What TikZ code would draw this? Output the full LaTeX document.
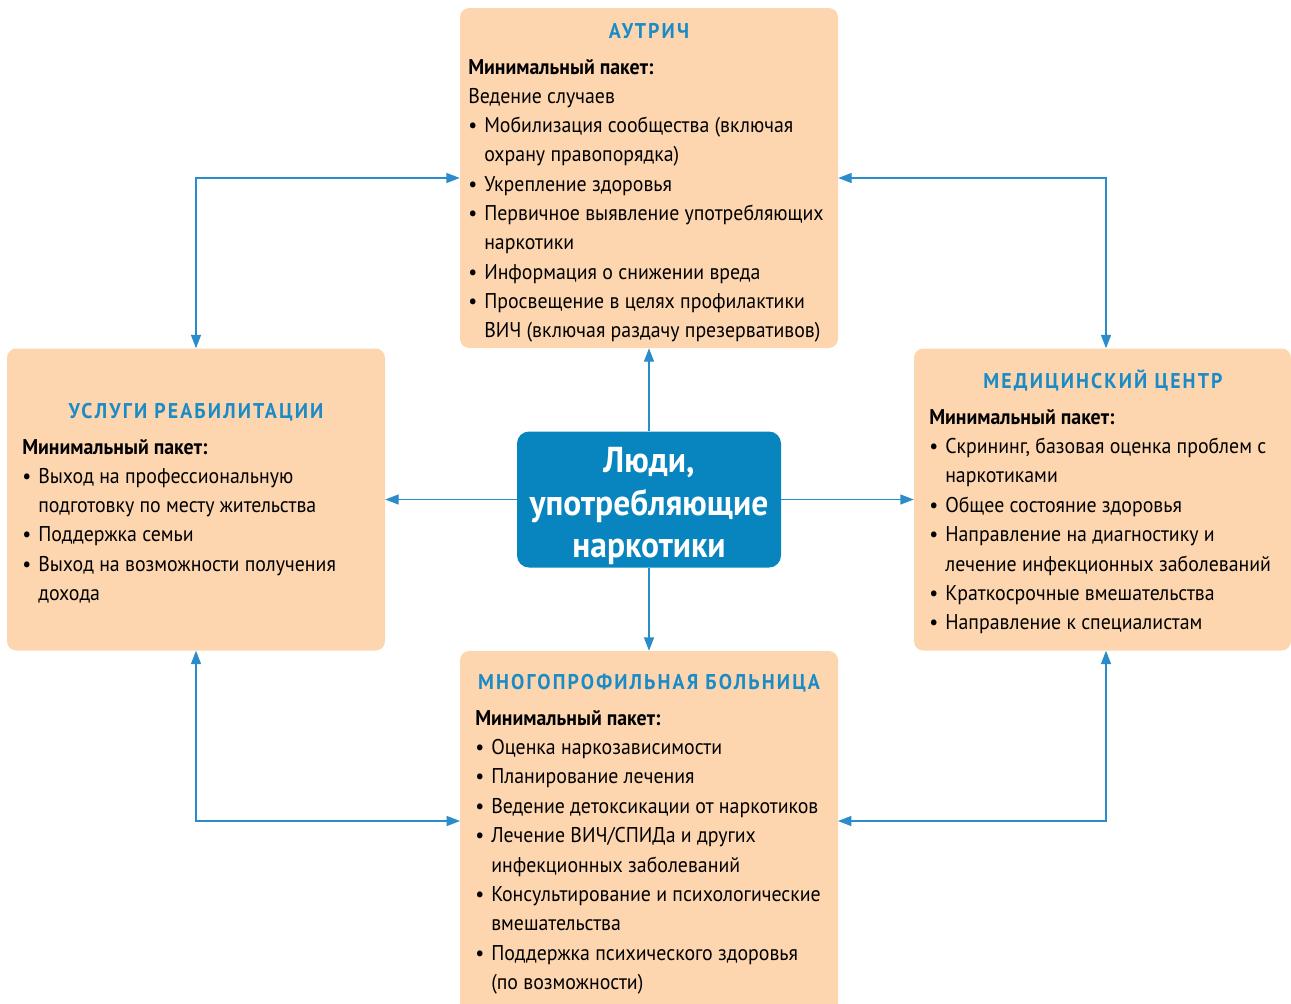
\documentclass[tikz,border=0pt]{standalone}
\usepackage{fontspec}
\setmainfont[FakeStretch=0.93]{PT Sans}
\usetikzlibrary{arrows.meta}
\definecolor{peach}{RGB}{253,214,176}
\definecolor{hubblue}{RGB}{8,132,190}
\definecolor{ttlblue}{RGB}{27,139,198}
\definecolor{conn}{RGB}{42,140,200}
\newdimen\px \px=0.75pt
\newcommand\bitem[1]{\makebox[16\px][l]{•}#1}
\newcommand\citem[1]{\hspace*{16\px}#1}
\begin{document}
\begin{tikzpicture}[x=0.75pt,y=-0.75pt,
  box/.style={fill=peach,rounded corners=7pt,inner sep=0pt},
  ln/.style={anchor=base west,inner sep=0pt,font=\fontsize{16}{22}\selectfont},
  hubln/.style={anchor=base,inner sep=0pt,text=white,font=\fontsize{27}{32}\selectfont\bfseries},
  ttl/.style={anchor=base,inner sep=0pt,text=ttlblue,font=\fontsize{16}{18}\selectfont\bfseries\addfontfeature{LetterSpace=10}},
  link/.style={draw=conn,line width=0.9pt,{Triangle[length=10pt,width=7.5pt]}-{Triangle[length=10pt,width=7.5pt]}},
  arr/.style={draw=conn,line width=0.9pt,-{Triangle[length=10pt,width=7.5pt]}}
]
\clip (0,0) rectangle (1291,1003);
\useasboundingbox (0,0) rectangle (1291,1003);
% boxes
\node[box,minimum width=378\px,minimum height=340\px] (top) at (649,178) {};
\node[box,minimum width=378\px,minimum height=302\px] (left) at (196,499.5) {};
\node[box,minimum width=377\px,minimum height=302\px] (right) at (1102.5,499.5) {};
\node[box,minimum width=378\px,minimum height=372\px] (bottom) at (649,837) {};
\node[fill=hubblue,rounded corners=9pt,minimum width=264\px,minimum height=136\px,inner sep=0pt] (hub) at (649,499.5) {};
\node[hubln] (hub1) at (649,472) {Люди,};
\node[hubln] (hub2) at (649,515) {употребляющие};
\node[hubln] (hub3) at (649,557) {наркотики};
% connectors
\draw[arr] (hub.north) -- (top.south);
\draw[arr] (hub.south) -- (bottom.north);
\draw[arr] (hub.west) -- (left.east);
\draw[arr] (hub.east) -- (right.west);
\coordinate (bl) at (460,821);
\coordinate (br) at (838,821);
\draw[link] (left.north) |- (top.west);
\draw[link] ([xshift=3.5\px]right.north) |- (top.east);
\draw[link] (left.south) |- (bl);
\draw[link] ([xshift=3.5\px]right.south) |- (br);
% titles
\node[ttl] (ttop) at (649,38) {АУТРИЧ};
\node[ttl] (tright) at (1103,388) {МЕДИЦИНСКИЙ ЦЕНТР};
\node[ttl] (tleft) at (196,418) {УСЛУГИ РЕАБИЛИТАЦИИ};
\node[ttl] (tbottom) at (649,689) {МНОГОПРОФИЛЬНАЯ БОЛЬНИЦА};
% top text
\foreach \t [count=\i from 0] in {
  {\textbf{Минимальный пакет:}},
  {Ведение случаев},
  \bitem{Мобилизация сообщества (включая},
  \citem{охрану правопорядка)},
  \bitem{Укрепление здоровья},
  \bitem{Первичное выявление употребляющих},
  \citem{наркотики},
  \bitem{Информация о снижении вреда},
  \bitem{Просвещение в целях профилактики},
  \citem{ВИЧ (включая раздачу презервативов)}}
  \node[ln] (topl\i) at (468,74+29.3*\i) {\t};
% right text
\foreach \t [count=\i from 0] in {
  {\textbf{Минимальный пакет:}},
  \bitem{Скрининг, базовая оценка проблем с},
  \citem{наркотиками},
  \bitem{Общее состояние здоровья},
  \bitem{Направление на диагностику и},
  \citem{лечение инфекционных заболеваний},
  \bitem{Краткосрочные вмешательства},
  \bitem{Направление к специалистам}}
  \node[ln] (rightl\i) at (929,424+29.4*\i) {\t};
% left text
\foreach \t [count=\i from 0] in {
  {\textbf{Минимальный пакет:}},
  \bitem{Выход на профессиональную},
  \citem{подготовку по месту жительства},
  \bitem{Поддержка семьи},
  \bitem{Выход на возможности получения},
  \citem{дохода}}
  \node[ln] (leftl\i) at (22,454+29.3*\i) {\t};
% bottom text
\foreach \t [count=\i from 0] in {
  {\textbf{Минимальный пакет:}},
  \bitem{Оценка наркозависимости},
  \bitem{Планирование лечения},
  \bitem{Ведение детоксикации от наркотиков},
  \bitem{Лечение ВИЧ/СПИДа и других},
  \citem{инфекционных заболеваний},
  \bitem{Консультирование и психологические},
  \citem{вмешательства},
  \bitem{Поддержка психического здоровья},
  \citem{(по возможности)}}
  \node[ln] (bottoml\i) at (475,725+29.4*\i) {\t};
\end{tikzpicture}
\end{document}
